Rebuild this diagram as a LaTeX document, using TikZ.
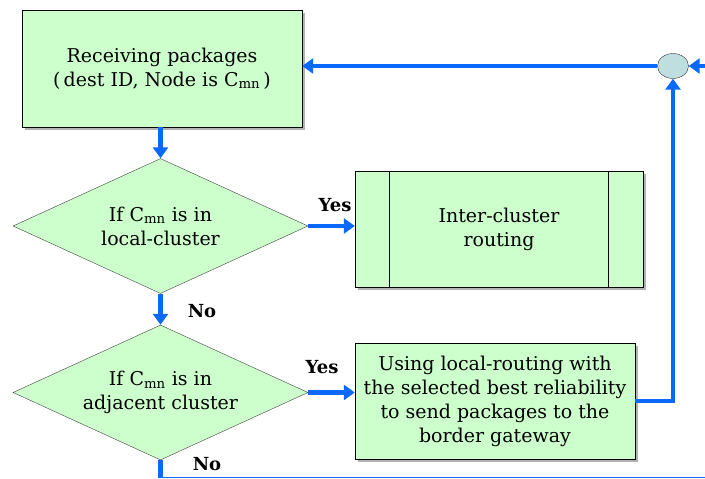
\documentclass[tikz,border=0pt]{standalone}
\usepackage{fontspec}
\setmainfont{DejaVu Serif}
\usetikzlibrary{arrows.meta,shapes.geometric,shadows}
\definecolor{boxgreen}{RGB}{204,255,204}
\definecolor{linkblue}{RGB}{10,105,250}
\definecolor{joinfill}{RGB}{190,222,224}

\begin{document}
\begin{tikzpicture}[x=1pt,y=-1pt]
\tikzstyle{every node}+=[inner sep=0pt, align=center, font=\fontsize{19}{24}\selectfont]
\tikzstyle{proc}=[draw=black, fill=boxgreen, rectangle, drop shadow={shadow xshift=3pt, shadow yshift=-3pt, fill=black!60}]
\tikzstyle{cond}=[draw=black!75, fill=boxgreen, diamond, minimum width=295pt, minimum height=135pt]
\tikzstyle{link}=[draw=linkblue, line width=4.5pt, -{Triangle[length=11pt, width=15pt]}]
\tikzstyle{answer}=[font=\fontsize{18}{20}\selectfont\bfseries]
\useasboundingbox (0,0) rectangle (705,479);
\node (recv) at (162,68.5) [proc, minimum width=280pt, minimum height=117pt] {Receiving packages\\(\,dest ID, Node is C\textsubscript{mn}\,)};
\node (dec1) at (160.5,226) [cond, label=center:{If C\textsubscript{mn} is in\\local-cluster}] {};
\node (inter) at (499,229) [proc, minimum width=288pt, minimum height=116pt] {Inter-cluster\\routing};
\draw ([xshift=34pt]inter.north west) -- ([xshift=34pt]inter.south west);
\draw ([xshift=-35pt]inter.north east) -- ([xshift=-35pt]inter.south east);
\node (dec2) at (160.5,392.5) [cond, label=center:{If C\textsubscript{mn} is in\\adjacent cluster}] {};
\node (send) at (495,401) [proc, minimum width=280pt, minimum height=116pt] {Using local-routing with\\the selected best reliability\\to send packages to the\\border gateway};
\node (join) at (673,66) [draw=black!80, fill=joinfill, ellipse, minimum width=31pt, minimum height=25pt] {};
\coordinate (back) at (705,66);
\coordinate (out) at (705,477.5);
\draw [link] (dec1.north |- recv.south) -- (dec1.north);
\draw [link] (dec1.east) -- (dec1.east -| inter.west);
\draw [link] (dec1.south) -- (dec2.north);
\draw [link] (dec2.east) -- (dec2.east -| send.west);
\draw [link] (send.east) -| (join.south);
\draw [link] (join.west) -- (join.west -| recv.east);
\draw [link] (back) -- (join.east);
\draw [linkblue, line width=4.5pt] (dec2.south) -- (dec2.south |- out);
\draw [linkblue, line width=1.8pt] ([xshift=-2.25pt]dec2.south |- out) -- (out);
\node (yes1) at (335,205) [answer] {Yes};
\node (no1) at (202,311) [answer] {No};
\node (yes2) at (322,367) [answer] {Yes};
\node (no2) at (207,464) [answer] {No};
\end{tikzpicture}
\end{document}
